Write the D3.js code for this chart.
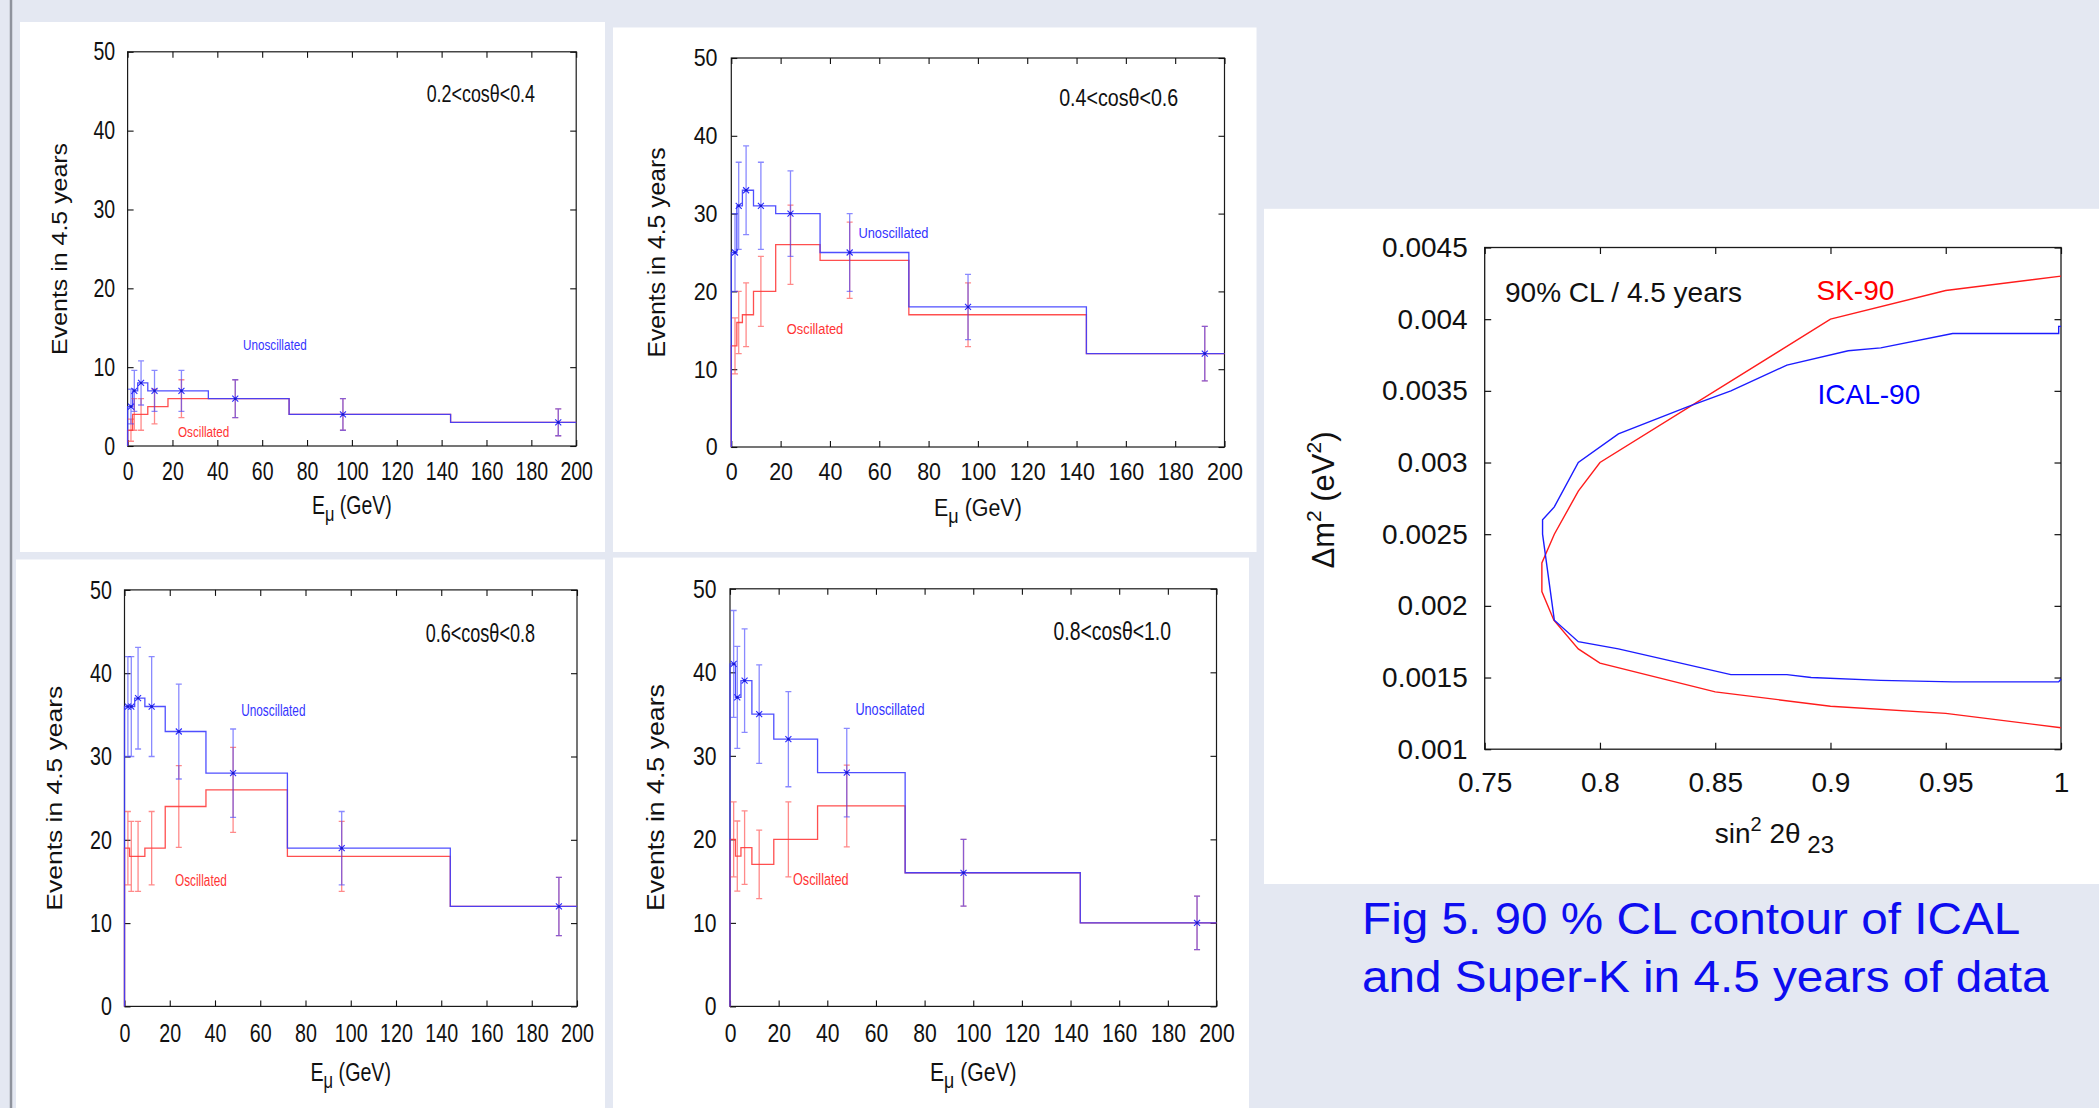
<!DOCTYPE html>
<html>
<head>
<meta charset="utf-8">
<script src="https://cdn.jsdelivr.net/npm/d3@7/dist/d3.min.js"></script>
<style>
body { margin: 0; background: #e4e8f2; }
svg { display: block; }
text { font-family: "Liberation Sans", Arial, Helvetica, sans-serif; }
</style>
</head>
<body>
<script>
// energy binning (GeV) shared by the four histograms
var binLo = [0, 2.25, 4.5, 9, 18, 36, 72, 144];
var binMark = [1.5, 3, 6, 12, 24, 48, 96, 192];
var eTicks = [0, 20, 40, 60, 80, 100, 120, 140, 160, 180, 200];
var nTicks = [0, 10, 20, 30, 40, 50];
var cutLabels = ["0.2<cosθ<0.4", "0.4<cosθ<0.6", "0.6<cosθ<0.8", "0.8<cosθ<1.0"];

// events per bin
var unosc02 = [5, 7, 8, 7, 7, 6, 4, 3];
var osc02 = [2, 4, 4, 5, 6, 6, 4, 3];
var unoscErr02 = [2.2, 2.6, 2.8, 2.6, 2.6, 2.4, 2.0, 1.7];
var oscErr02 = [1.4, 2.0, 2.0, 2.2, 2.4, 2.4, 2.0, 1.7];

var unosc04 = [25, 31, 33, 31, 30, 25, 18, 12];
var osc04 = [13, 16, 17, 20, 26, 24, 17, 12];
var unoscErr04 = [5.0, 5.6, 5.7, 5.6, 5.5, 5.0, 4.2, 3.5];
var oscErr04 = [3.6, 4.0, 4.1, 4.5, 5.1, 4.9, 4.1, 3.5];

var unosc06 = [36, 36, 37, 36, 33, 28, 19, 12];
var osc06 = [19, 18, 18, 19, 24, 26, 18, 12];
var unoscErr06 = [6.0, 6.0, 6.1, 6.0, 5.7, 5.3, 4.4, 3.5];
var oscErr06 = [4.4, 4.2, 4.2, 4.4, 4.9, 5.1, 4.2, 3.5];

var unosc08 = [41, 37, 39, 35, 32, 28, 16, 10];
var osc08 = [20, 18, 19, 17, 20, 24, 16, 10];
var unoscErr08 = [6.4, 6.1, 6.2, 5.9, 5.7, 5.3, 4.0, 3.2];
var oscErr08 = [4.5, 4.2, 4.4, 4.1, 4.5, 4.9, 4.0, 3.2];

// 90% CL contours
var clTicksX = [0.75, 0.8, 0.85, 0.9, 0.95, 1];
var clLabelsX = ["0.75", "0.8", "0.85", "0.9", "0.95", "1"];
var clTicksY = [0.001, 0.0015, 0.002, 0.0025, 0.003, 0.0035, 0.004, 0.0045];
var clLabelsY = ["0.001", "0.0015", "0.002", "0.0025", "0.003", "0.0035", "0.004", "0.0045"];
var skSin = [1.0, 0.95, 0.9, 0.8, 0.7906, 0.7802, 0.7748, 0.7748, 0.78, 0.7906, 0.8, 0.85, 0.9, 0.95, 1.0];
var skDm = [0.0043, 0.0042, 0.004, 0.003, 0.0028, 0.0025, 0.0023, 0.0021, 0.0019, 0.0017, 0.0016, 0.0014, 0.0013, 0.00125, 0.00115];
var icalSin = [1.0, 0.999, 0.999, 0.953, 0.9218, 0.9077, 0.8811, 0.8568, 0.8382, 0.808, 0.7906, 0.7802, 0.7751, 0.7751,
	0.7802, 0.7906, 0.808, 0.8568, 0.8811, 0.8916, 0.9218, 0.9531, 0.999, 1.0];
var icalDm = [0.00395, 0.00395, 0.0039, 0.0039, 0.0038, 0.00378, 0.00368, 0.0035, 0.00339, 0.0032, 0.003, 0.00269, 0.0026, 0.0025,
	0.0019, 0.00175, 0.0017, 0.00152, 0.00152, 0.0015, 0.00148, 0.00147, 0.00147, 0.00149];

var BLUE = "#3c3cff", RED = "#ff3c3c";

var panels = [
	{cut: cutLabels[0], un: unosc02, os: osc02, unErr: unoscErr02, osErr: oscErr02,
	 L: 127.6, T: 51.8, R: 576.2, B: 446, white: [20, 22, 605, 552],
	 ylabX: 59.5, ylen: 212, xlabY: 505, cutR: 535, cutY: 93, unX: 243, unY: 345, osX: 178, osY: 432},
	{cut: cutLabels[1], un: unosc04, os: osc04, unErr: unoscErr04, osErr: oscErr04,
	 L: 731.3, T: 58, R: 1224.5, B: 447, white: [613, 27.5, 1256.5, 552],
	 ylabX: 656.3, ylen: 210, xlabY: 507.3, cutR: 1178.2, cutY: 97.5, unX: 858.4, unY: 232.5, osX: 786.8, osY: 328.9},
	{cut: cutLabels[2], un: unosc06, os: osc06, unErr: unoscErr06, osErr: oscErr06,
	 L: 124.5, T: 589.9, R: 577, B: 1006.4, white: [16, 559.5, 605, 1108],
	 ylabX: 54.5, ylen: 225, xlabY: 1071, cutR: 535, cutY: 633, unX: 241.2, unY: 710.2, osX: 175, osY: 880},
	{cut: cutLabels[3], un: unosc08, os: osc08, unErr: unoscErr08, osErr: oscErr08,
	 L: 730, T: 588.8, R: 1216.5, B: 1006.4, white: [613, 557.6, 1249, 1108],
	 ylabX: 655.5, ylen: 227, xlabY: 1071, cutR: 1171, cutY: 631.2, unX: 855.4, unY: 709.5, osX: 793, osY: 879.6}
];

var svg = d3.select("body").append("svg")
	.attr("width", 2099)
	.attr("height", 1108);

svg.append("rect").attr("width", 2099).attr("height", 1108).attr("fill", "#e4e8f2");
svg.append("line").attr("x1", 11).attr("x2", 11).attr("y1", 0).attr("y2", 1108)
	.attr("stroke", "#8f939d").attr("stroke-width", 2.5);

// text whose glyphs are squeezed horizontally like the original
function label(g, x, y, s, size, sx, anchor, fill) {
	return g.append("text")
		.attr("transform", "translate(" + x + "," + (y + 0.358 * size) + ") scale(" + sx + ",1)")
		.attr("text-anchor", anchor)
		.attr("font-size", size)
		.attr("fill", fill || "#111")
		.text(s);
}

panels.forEach(drawPanel);

function drawPanel(p) {
	var g = svg.append("g");
	g.append("rect")
		.attr("x", p.white[0]).attr("y", p.white[1])
		.attr("width", p.white[2] - p.white[0]).attr("height", p.white[3] - p.white[1])
		.attr("fill", "#fff");

	var kx = (p.R - p.L) / 448.6, ky = (p.B - p.T) / 394.2;
	var fs = 25 * ky, sx = 0.78 * kx / ky;

	var x = d3.scaleLinear().domain([0, 200]).range([p.L, p.R]);
	var y = d3.scaleLinear().domain([0, 50]).range([p.B, p.T]);

	g.append("rect")
		.attr("x", p.L).attr("y", p.T).attr("width", p.R - p.L).attr("height", p.B - p.T)
		.attr("fill", "none").attr("stroke", "#1a1a1a").attr("stroke-width", 1.2);

	function styleAxis(a) {
		a.select(".domain").remove();
		a.attr("font-size", fs).attr("font-family", null);
		a.selectAll("line").attr("stroke", "#111").attr("stroke-width", 1.1);
		a.selectAll("text").attr("fill", "#111").attr("transform", "scale(" + sx + ",1)");
	}

	g.append("g").attr("transform", "translate(0," + p.B + ")")
		.call(d3.axisBottom(x).tickValues(eTicks).tickSizeInner(-6).tickSizeOuter(0)
			.tickPadding(25 * ky - 0.358 * fs))
		.call(styleAxis);
	g.append("g").attr("transform", "translate(0," + p.T + ")")
		.call(d3.axisTop(x).tickValues(eTicks).tickSizeInner(-6).tickSizeOuter(0).tickFormat(""))
		.call(styleAxis);
	g.append("g").attr("transform", "translate(" + p.L + ",0)")
		.call(d3.axisLeft(y).tickValues(nTicks).tickSizeInner(-6).tickSizeOuter(0)
			.tickPadding(12.5 * kx / sx))
		.call(styleAxis);
	g.append("g").attr("transform", "translate(" + p.R + ",0)")
		.call(d3.axisRight(y).tickValues(nTicks).tickSizeInner(-6).tickSizeOuter(0).tickFormat(""))
		.call(styleAxis);

	// axis titles
	var xt = g.append("text")
		.attr("transform", "translate(" + ((p.L + p.R) / 2) + "," + (p.xlabY + 9 * ky) + ") scale(" + (0.78 * kx / ky) + ",1)")
		.attr("text-anchor", "middle").attr("font-size", 25 * ky).attr("fill", "#111");
	xt.append("tspan").text("E");
	xt.append("tspan").attr("font-size", 21 * ky).attr("dy", 7 * ky).text("μ");
	xt.append("tspan").attr("dy", -7 * ky).text(" (GeV)");

	g.append("text")
		.attr("transform", "translate(" + (p.ylabX + 0.358 * 22 * kx) + "," + ((p.T + p.B) / 2) + ") rotate(-90)")
		.attr("text-anchor", "middle").attr("font-size", 22 * kx).attr("fill", "#111")
		.attr("textLength", p.ylen).attr("lengthAdjust", "spacingAndGlyphs")
		.text("Events in 4.5 years");

	label(g, p.cutR, p.cutY, p.cut, 24.5 * ky, 0.73 * kx / ky, "end");
	label(g, p.unX, p.unY, "Unoscillated", 15 * ky, 0.78 * kx / ky, "start", "#3434ff");
	label(g, p.osX, p.osY, "Oscillated", 15 * ky, 0.78 * kx / ky, "start", "#ff3434");

	var line = d3.line()
		.x(function(d) { return x(d[0]); })
		.y(function(d) { return y(d[1]); })
		.curve(d3.curveStepAfter);

	function steps(vals) {
		var pts = [[0, 0]];
		vals.forEach(function(v, i) { pts.push([binLo[i], v]); });
		pts.push([200, vals[vals.length - 1]]);
		return pts;
	}

	function errors(vals, errs, color) {
		var eg = g.append("g").attr("stroke", color).attr("stroke-width", 1.3).attr("stroke-opacity", 0.6).attr("fill", "none");
		vals.forEach(function(v, i) {
			var cx = x(binMark[i]), y0 = y(v - errs[i]), y1 = y(v + errs[i]);
			eg.append("path").attr("d",
				"M" + cx + "," + y0 + "V" + y1 +
				"M" + (cx - 3) + "," + y0 + "H" + (cx + 3) +
				"M" + (cx - 3) + "," + y1 + "H" + (cx + 3));
		});
	}

	g.append("path").attr("d", line(steps(p.os))).attr("fill", "none")
		.attr("stroke", RED).attr("stroke-width", 1.3).attr("stroke-opacity", 0.9);
	g.append("path").attr("d", line(steps(p.un))).attr("fill", "none")
		.attr("stroke", BLUE).attr("stroke-width", 1.3).attr("stroke-opacity", 0.9);
	errors(p.os, p.osErr, RED);
	errors(p.un, p.unErr, BLUE);

	g.selectAll(".mk")
		.data(p.un)
		.enter().append("path")
		.attr("class", "mk")
		.attr("transform", function(d, i) { return "translate(" + x(binMark[i]) + "," + y(d) + ")"; })
		.attr("d", "M-3,-3L3,3M-3,3L3,-3")
		.attr("stroke", "#2a2aff").attr("stroke-width", 1.1).attr("fill", "none");
	g.selectAll(".dot")
		.data(p.un)
		.enter().append("circle")
		.attr("cx", function(d, i) { return x(binMark[i]); })
		.attr("cy", function(d) { return y(d); })
		.attr("r", 1.3).attr("fill", "#1a1acc");
}

// contour panel
(function() {
	var g = svg.append("g");
	g.append("rect").attr("x", 1264).attr("y", 208.8).attr("width", 2099 - 1264).attr("height", 884 - 208.8).attr("fill", "#fff");

	var L = 1484.7, R = 2061, T = 247.5, B = 749.2;
	var x = d3.scaleLinear().domain([0.75, 1]).range([L, R]);
	var y = d3.scaleLinear().domain([0.001, 0.0045]).range([B, T]);

	g.append("rect").attr("x", L).attr("y", T).attr("width", R - L).attr("height", B - T)
		.attr("fill", "none").attr("stroke", "#1a1a1a").attr("stroke-width", 1.3);

	function styleAxis(a) {
		a.select(".domain").remove();
		a.attr("font-size", 28).attr("font-family", null);
		a.selectAll("line").attr("stroke", "#111").attr("stroke-width", 1.2);
		a.selectAll("text").attr("fill", "#111");
	}
	g.append("g").attr("transform", "translate(0," + B + ")")
		.call(d3.axisBottom(x).tickValues(clTicksX).tickSizeInner(-6.5).tickSizeOuter(0).tickPadding(22.5)
			.tickFormat(function(d, i) { return clLabelsX[i]; }))
		.call(styleAxis);
	g.append("g").attr("transform", "translate(0," + T + ")")
		.call(d3.axisTop(x).tickValues(clTicksX).tickSizeInner(-6.5).tickSizeOuter(0).tickFormat(""))
		.call(styleAxis);
	g.append("g").attr("transform", "translate(" + L + ",0)")
		.call(d3.axisLeft(y).tickValues(clTicksY).tickSizeInner(-6.5).tickSizeOuter(0).tickPadding(17)
			.tickFormat(function(d, i) { return clLabelsY[i]; }))
		.call(styleAxis);
	g.append("g").attr("transform", "translate(" + R + ",0)")
		.call(d3.axisRight(y).tickValues(clTicksY).tickSizeInner(-6.5).tickSizeOuter(0).tickFormat(""))
		.call(styleAxis);

	var line = d3.line()
		.x(function(d) { return x(d[0]); })
		.y(function(d) { return y(d[1]); });

	g.append("path").attr("d", line(d3.zip(skSin, skDm))).attr("fill", "none")
		.attr("stroke", "#ff1c1c").attr("stroke-width", 1.4);
	g.append("path").attr("d", line(d3.zip(icalSin, icalDm))).attr("fill", "none")
		.attr("stroke", "#1c1cff").attr("stroke-width", 1.4);

	label(g, 1505, 291.5, "90% CL / 4.5 years", 28, 1, "start");
	label(g, 1816.5, 290.2, "SK-90", 28, 1, "start", "#ff0000");
	label(g, 1817.5, 393.6, "ICAL-90", 28, 1, "start", "#0000ff");

	var xt = g.append("text").attr("x", 1714.8).attr("y", 843.3).attr("font-size", 28).attr("fill", "#111");
	xt.append("tspan").text("sin");
	xt.append("tspan").attr("font-size", 20).attr("dy", -12).text("2");
	xt.append("tspan").attr("dy", 12).text(" 2θ");
	xt.append("tspan").attr("font-size", 24).attr("dy", 10).text(" 23");

	var yt = g.append("text")
		.attr("transform", "translate(1334,500) rotate(-90)")
		.attr("text-anchor", "middle").attr("font-size", 31).attr("fill", "#111");
	yt.append("tspan").text("Δm");
	yt.append("tspan").attr("font-size", 21).attr("dy", -13).text("2");
	yt.append("tspan").attr("dy", 13).text(" (eV");
	yt.append("tspan").attr("font-size", 21).attr("dy", -13).text("2");
	yt.append("tspan").attr("dy", 13).text(")");
})();

// caption
svg.append("text")
	.attr("transform", "translate(1362,934) scale(1.06,1)")
	.attr("font-size", 45).attr("fill", "#0d0df0")
	.text("Fig 5. 90 % CL contour of ICAL");
svg.append("text")
	.attr("transform", "translate(1362,991.7) scale(1.06,1)")
	.attr("font-size", 45).attr("fill", "#0d0df0")
	.text("and Super-K in 4.5 years of data");
</script>
</body>
</html>
